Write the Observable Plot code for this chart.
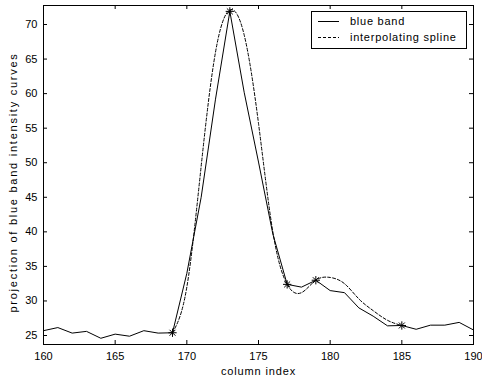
<!DOCTYPE html>
<html><head><meta charset="utf-8">
<script src="https://cdn.jsdelivr.net/npm/d3@7"></script>
<script src="https://cdn.jsdelivr.net/npm/@observablehq/plot@0.6"></script>
<style>body{margin:0;background:#fff} svg{display:block}</style>
</head><body><div id="chart"></div>
<script>
// blue band projection (solid line)
const bandColumns = [160,161,162,163,164,165,166,167,168,169,170,171,172,173,174,175,176,177,178,179,180,181,182,183,184,185,186,187,188,189,190];
const bandValues  = [25.7,26.15,25.35,25.6,24.6,25.2,24.9,25.7,25.35,25.4,34.0,45.0,59.2,71.9,60.2,50.1,39.7,32.4,32.0,33.0,31.5,31.2,29.0,27.8,26.4,26.45,25.9,26.5,26.5,26.9,25.8];
// interpolating spline (dashed)
const splineColumns = [169,170,171,172,173,174,175,176,177,178,179,180,181,182,183,184,185];
const splineValues  = [25.4,32.0,49.5,66.0,72.1,68.5,55.7,40.0,32.4,31.2,33.0,33.4,32.5,30.3,28.6,27.2,26.45];
// knots (star markers)
const knotColumns = [169,173,177,179,185];
const knotValues  = [25.4,71.9,32.4,33.0,26.45];
// ticks
const xTicks = [160,165,170,175,180,185,190];
const yTicks = [25,30,35,40,45,50,55,60,65,70];
const xLabel = "column index";
const yLabel = "projection of blue band intensity curves";
const legendLabels = ["blue band", "interpolating spline"];

const band = bandColumns.map((x,i)=>({x, y: bandValues[i]}));
const spline = splineColumns.map((x,i)=>({x, y: splineValues[i]}));
const knots = knotColumns.map((x,i)=>({x, y: knotValues[i]}));

const W = 482, H = 383, mL = 43, mR = 9, mT = 5, mB = 39;
const fw = W - mL - mR, fh = H - mT - mB;
const FONT = "'Liberation Sans', Arial, Helvetica, sans-serif";

const plot = Plot.plot({
  width: W, height: H,
  marginLeft: mL, marginRight: mR, marginTop: mT, marginBottom: mB,
  style: {fontFamily: FONT, fontSize: "11px", color: "#000", background: "#fff"},
  x: {domain: [160, 190]},
  y: {domain: [23.7, 72.75]},
  marks: [
    Plot.axisX(xTicks, {tickSize: 0, tickPadding: 8, label: null, fontSize: 11}),
    Plot.axisY(yTicks, {tickSize: 0, tickPadding: 6, label: null, fontSize: 11}),
    Plot.tickX(xTicks, {x: d=>d, insetTop: fh - 4, stroke: "#000"}),
    Plot.tickX(xTicks, {x: d=>d, insetBottom: fh - 4, stroke: "#000"}),
    Plot.tickY(yTicks, {y: d=>d, insetRight: fw - 4, stroke: "#000"}),
    Plot.tickY(yTicks, {y: d=>d, insetLeft: fw - 4, stroke: "#000"}),
    Plot.line(band, {x: "x", y: "y", stroke: "#000", strokeWidth: 1}),
    Plot.line(spline, {x: "x", y: "y", curve: "natural", stroke: "#000", strokeWidth: 1, strokeDasharray: "3,2"}),
    Plot.dot(knots, {x: "x", y: "y", symbol: "plus", r: 2.8, stroke: "#000", strokeWidth: 1}),
    Plot.dot(knots, {x: "x", y: "y", symbol: "times", r: 2.8, stroke: "#000", strokeWidth: 1}),
    Plot.frame({stroke: "#000"}),
    Plot.text([xLabel], {text: d=>d, frameAnchor: "bottom", dy: 30, fontSize: 11, textAnchor: "middle"}),
    Plot.text([yLabel], {text: d=>d, frameAnchor: "left", dx: -30, dy: 7.5, rotate: -90, fontSize: 11, textAnchor: "middle"})
  ]
});

const svg = d3.select(plot);
// wider letter spacing like the original's screen font
svg.selectAll("text").filter(function(){ return this.textContent === xLabel; }).attr("letter-spacing", "0.85px");
svg.selectAll("text").filter(function(){ return this.textContent === yLabel; }).attr("letter-spacing", "1.75px");

// legend box (inside the axes, top-right)
const lg = svg.append("g").attr("font-family", FONT).attr("font-size", 11).attr("text-anchor", "start");
lg.append("rect").attr("x", 311.5).attr("y", 11.5).attr("width", 155).attr("height", 37)
  .attr("fill", "#fff").attr("stroke", "#000");
const dashes = [null, "3,2"];
legendLabels.forEach((t, i) => {
  const y = 21.5 + i * 16;
  lg.append("line").attr("x1", 318).attr("x2", 339).attr("y1", y).attr("y2", y)
    .attr("stroke", "#000").attr("stroke-dasharray", dashes[i]);
  lg.append("text").attr("x", 350).attr("y", y).attr("dy", "0.35em").attr("fill", "#000")
    .attr("letter-spacing", "0.75px").text(t);
});

document.getElementById("chart").appendChild(plot);
</script>
</body></html>
